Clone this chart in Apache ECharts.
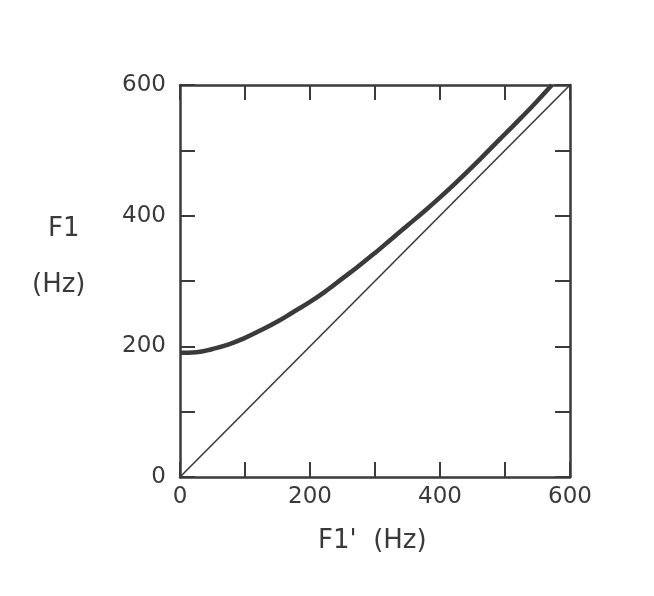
<!DOCTYPE html>
<html lang="en">

<head>
    <meta charset="UTF-8">
    <title>F1 vs F1'</title>
    <script src="https://cdnjs.cloudflare.com/ajax/libs/echarts/6.0.0/echarts.min.js"></script>
</head>

<body style="margin:0;background:#fff;">
    <div id="ech" style="width:654px;height:596px;"></div>
    <script>
        // F1' (Hz) values and the corresponding F1 (Hz) of the thick curve
        let f1Prime = [0, 25, 50, 75, 100, 125, 150, 175, 200, 225, 250, 275, 300, 325, 350, 375, 400, 425, 450, 475, 500, 525, 550, 572];
        let f1 = [190, 191, 196, 203, 213, 225, 238, 253, 268, 285, 304, 323, 343, 364, 385, 406, 428, 451, 475, 500, 525, 550, 576, 600];
        // reference line F1 = F1'
        let diagX = [0, 600];
        let diagY = [0, 600];
        let tickLabels = ['0', '200', '400', '600'];

        let ink = '#3a3a3a';
        let font = 'DejaVu Sans';

        let curve = f1Prime.map((x, i) => [x, f1[i]]);
        let diag = diagX.map((x, i) => [x, diagY[i]]);

        function showLabel(v) {
            return tickLabels.indexOf(String(v)) >= 0 ? String(v) : '';
        }

        function makeAxis(pos, labels) {
            return {
                type: 'value',
                position: pos,
                min: 0,
                max: 600,
                interval: 100,
                axisLine: { show: true, onZero: false, lineStyle: { color: ink, width: 2.5 } },
                axisTick: { show: true, inside: true, length: 15, lineStyle: { color: ink, width: 2 } },
                splitLine: { show: false },
                axisLabel: labels ? {
                    show: true, formatter: showLabel, margin: pos == 'left' ? 14 : 9, color: ink,
                    fontSize: 23, fontFamily: font, showMinLabel: true, showMaxLabel: true
                } : { show: false }
            };
        }

        let my_echart = echarts.init(document.getElementById('ech'));
        let option = {
            backgroundColor: '#fff',
            animation: false,
            grid: { left: 180, top: 85, width: 390, height: 392 },
            xAxis: [makeAxis('bottom', true), makeAxis('top', false)],
            yAxis: [makeAxis('left', true), makeAxis('right', false)],
            graphic: [{
                type: 'text', left: 48, top: 216,
                style: { text: 'F1', font: '26px "DejaVu Sans"', fill: ink }
            }, {
                type: 'text', left: 32, top: 272,
                style: { text: '(Hz)', font: '26px "DejaVu Sans"', fill: ink }
            }, {
                type: 'text', left: 318, top: 528,
                style: { text: "F1'  (Hz)", font: '26px "DejaVu Sans"', fill: ink }
            }],
            series: [{
                name: 'F1',
                type: 'line',
                smooth: true,
                symbol: 'none',
                data: curve,
                lineStyle: { color: ink, width: 4.5 }
            }, {
                name: 'F1 = F1\'',
                type: 'line',
                symbol: 'none',
                data: diag,
                lineStyle: { color: ink, width: 1.6 }
            }]
        };

        my_echart.setOption(option);
    </script>
</body>

</html>
